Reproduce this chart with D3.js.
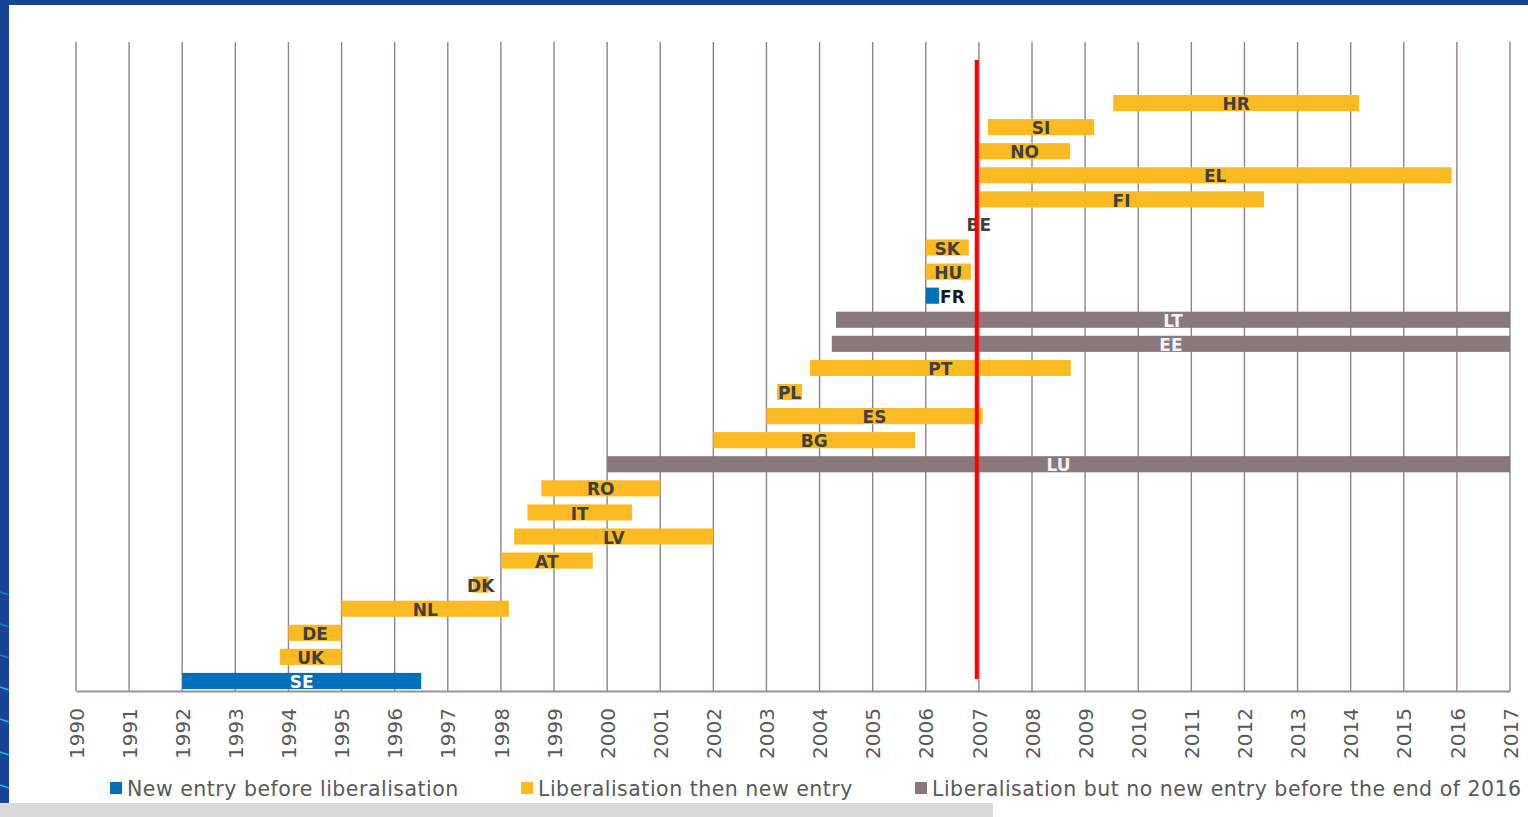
<!DOCTYPE html>
<html>
<head>
<meta charset="utf-8">
<script src="https://cdn.jsdelivr.net/npm/d3@7"></script>
<style>
  body { margin: 0; background: #fff; overflow: hidden; }
  svg { display: block; font-family: "DejaVu Sans", Verdana, sans-serif; }
</style>
</head>
<body>
<script>
// data: one row per country, bottom to top
const countries = ["SE", "UK", "DE", "NL", "DK", "AT", "LV", "IT", "RO", "LU", "BG", "ES", "PL", "PT", "EE", "LT", "FR", "HU", "SK", "BE", "FI", "EL", "NO", "SI", "HR"];
const startYear = [1992.0, 1993.84, 1994.0, 1995.0, 1997.47, 1998.0, 1998.25, 1998.5, 1998.76, 2000.0, 2002.0, 2003.0, 2003.2, 2003.82, 2004.23, 2004.31, 2006.0, 2006.0, 2006.0, 2007.0, 2007.0, 2007.0, 2007.0, 2007.17, 2009.53];
const endYear   = [1996.5, 1995.0, 1995.0, 1998.15, 1997.77, 1999.73, 2002.0, 2000.47, 2001.0, 2017.0, 2005.8, 2007.07, 2003.67, 2008.73, 2017.0, 2017.0, 2006.25, 2006.85, 2006.81, 2007.0, 2012.37, 2015.9, 2008.72, 2009.17, 2014.16];
// 0 = new entry before liberalisation, 1 = liberalisation then new entry, 2 = no new entry
const groupOf   = [0, 1, 1, 1, 1, 1, 1, 1, 1, 2, 1, 1, 1, 1, 2, 2, 0, 1, 1, 1, 1, 1, 1, 1, 1];
const legendNames = ["New entry before liberalisation", "Liberalisation then new entry", "Liberalisation but no new entry before the end of 2016"];
const yearTicks = d3.range(1990, 2018);
const cutoffYear = 2006.96;

const colors = ["#0070b8", "#fbba22", "#89797d"];
const labelColors = ["#ffffff", "#404040", "#f2f2f2"];

const W = 1528, H = 817;
const svg = d3.select("body").append("svg").attr("width", W).attr("height", H);

// frame decoration
svg.append("rect").attr("x", 0).attr("y", 0).attr("width", W).attr("height", 5).attr("fill", "#174593");
svg.append("rect").attr("x", 0).attr("y", 0).attr("width", 9).attr("height", 803).attr("fill", "#174593");
svg.append("rect").attr("x", 0).attr("y", 803).attr("width", 993).attr("height", 14).attr("fill", "#d9d9d9");
[595, 627, 658, 690, 722, 755, 788].forEach((y, i) => {
  svg.append("line").attr("x1", 0).attr("x2", 9).attr("y1", y - 3).attr("y2", y)
    .attr("stroke", i < 3 ? "#1c7fc9" : "#22b5ee").attr("stroke-width", 1.5);
});

// scales
const x = d3.scaleLinear().domain([1990, 2017]).range([76, 1510]);
const y = d3.scaleBand().domain(countries).range([693, 91]).paddingInner(0.33).paddingOuter(0.165);
const plotTop = 42, plotBottom = 691;

// vertical grid
svg.append("g").selectAll("line").data(yearTicks).enter().append("line")
  .attr("x1", d => x(d)).attr("x2", d => x(d))
  .attr("y1", plotTop).attr("y2", plotBottom)
  .attr("stroke", "#8f8388").attr("stroke-width", 1.4);

// bars
const rows = countries.map((c, i) => ({ c, s: startYear[i], e: endYear[i], g: groupOf[i] }));
svg.append("g").selectAll("rect").data(rows).enter().append("rect")
  .attr("x", d => x(d.s))
  .attr("y", d => y(d.c))
  .attr("width", d => x(d.e) - x(d.s))
  .attr("height", y.bandwidth())
  .attr("fill", d => colors[d.g]);

// bar labels (tiny blue bar gets its label beside it)
const outside = d => x(d.e) - x(d.s) < 15 && d.g === 0;
svg.append("g").selectAll("text").data(rows).enter().append("text")
  .attr("x", d => outside(d) ? x(d.e) + 1 : (x(d.s) + x(d.e)) / 2)
  .attr("y", d => y(d.c) + y.bandwidth() / 2)
  .attr("dy", "0.42em")
  .attr("text-anchor", d => outside(d) ? "start" : "middle")
  .attr("font-size", 17).attr("font-weight", "bold")
  .attr("fill", d => outside(d) ? "#1a1a1a" : labelColors[d.g])
  .text(d => d.c);

// x axis
const xAxis = d3.axisBottom(x).tickValues(yearTicks).tickFormat(d3.format("d")).tickSize(0).tickPadding(0);
const gx = svg.append("g").attr("transform", "translate(0," + plotBottom + ")").call(xAxis);
gx.select(".domain").attr("stroke", "#9b9094").attr("stroke-width", 2.2);
gx.selectAll("text")
  .attr("transform", "translate(0,17) rotate(-90)")
  .attr("text-anchor", "end")
  .attr("x", 0).attr("y", 0).attr("dy", "0.36em")
  .attr("font-size", 20)
  .attr("font-family", "\"DejaVu Sans\", Verdana, sans-serif")
  .attr("fill", "#595959");

// red cut-off line
svg.append("line")
  .attr("x1", x(cutoffYear)).attr("x2", x(cutoffYear))
  .attr("y1", 60).attr("y2", 679)
  .attr("stroke", "#ff0000").attr("stroke-width", 4);

// legend
const legendX = [110, 521, 915];
const lg = svg.append("g").selectAll("g").data(legendNames).enter().append("g")
  .attr("transform", (d, i) => "translate(" + legendX[i] + ",0)");
lg.append("rect").attr("x", 0).attr("y", 782).attr("width", 12).attr("height", 12).attr("fill", (d, i) => colors[i]);
lg.append("text").attr("x", 17).attr("y", 796)
  .attr("font-size", 20.5).attr("letter-spacing", 0.5).attr("fill", "#595959")
  .text(d => d);
</script>
</body>
</html>
